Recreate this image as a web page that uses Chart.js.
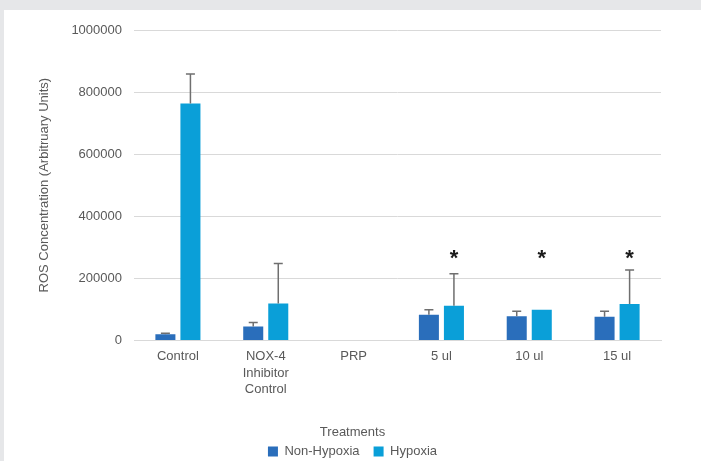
<!DOCTYPE html>
<html>
<head>
<meta charset="utf-8">
<script src="https://cdn.jsdelivr.net/npm/chart.js@4/dist/chart.umd.min.js"></script>
<style>
  html, body { margin: 0; padding: 0; background: #e6e7e9; width: 701px; height: 461px; overflow: hidden; }
  #card { position: absolute; left: 4px; top: 10px; width: 697px; height: 451px; background: #ffffff; overflow: hidden; }
  canvas { display: block; }
</style>
</head>
<body>
<div id="card"><canvas id="c" width="697" height="458"></canvas></div>
<script>
// ---- data ----
const categories = [['Control'], ['NOX-4', 'Inhibitor', 'Control'], 'PRP', '5 ul', '10 ul', '15 ul'];
const nonHypoxia = [20000, 45000, 0, 83000, 78000, 76000];
const nonHypoxiaErr = [3000, 13000, 0, 16000, 16000, 18000];
const hypoxia = [763000, 119000, 0, 112000, 99000, 117000];
const hypoxiaErr = [95000, 129000, 0, 103000, 0, 110000];
const starValues = [null, null, null, 280000, 280000, 280000];
const yTicks = [0, 200000, 400000, 600000, 800000, 1000000];

const TXT = '#595959';
const FONT = "'Liberation Sans', Arial, sans-serif";

const errorBars = {
  id: 'errorBars',
  afterDatasetsDraw(chart) {
    const ctx = chart.ctx;
    const y = chart.scales.y;
    chart.data.datasets.forEach((ds, di) => {
      const meta = chart.getDatasetMeta(di);
      const errs = ds.errors || [];
      meta.data.forEach((bar, i) => {
        const e = errs[i];
        if (!e) return;
        const top = y.getPixelForValue(ds.data[i] + e);
        ctx.save();
        ctx.strokeStyle = '#6f6f6f';
        ctx.lineWidth = 1.5;
        ctx.beginPath();
        ctx.moveTo(bar.x, bar.y);
        ctx.lineTo(bar.x, top);
        ctx.moveTo(bar.x - 4.5, top);
        ctx.lineTo(bar.x + 4.5, top);
        ctx.stroke();
        ctx.restore();
      });
    });
    // significance stars above hypoxia bars
    const meta = chart.getDatasetMeta(1);
    ctx.save();
    ctx.fillStyle = '#1a1a1a';
    ctx.font = "bold 22px " + FONT;
    ctx.textAlign = 'center';
    ctx.textBaseline = 'alphabetic';
    starValues.forEach((v, i) => {
      if (v == null) return;
      const bar = meta.data[i];
      const py = y.getPixelForValue(v);
      ctx.fillText('*', bar.x, py + 12);
    });
    ctx.restore();
  }
};

new Chart(document.getElementById('c'), {
  type: 'bar',
  data: {
    labels: categories,
    datasets: [
      { label: 'Non-Hypoxia', data: nonHypoxia, errors: nonHypoxiaErr, backgroundColor: '#2a6ebb',
        yAxisID: 'y', categoryPercentage: 0.57, barPercentage: 0.8 },
      { label: 'Hypoxia', data: hypoxia, errors: hypoxiaErr, backgroundColor: '#0a9fd8',
        yAxisID: 'y', categoryPercentage: 0.57, barPercentage: 0.8 }
    ]
  },
  options: {
    responsive: false,
    animation: false,
    layout: { padding: { top: 20, right: 0, left: 0, bottom: 0 } },
    plugins: {
      tooltip: { enabled: false },
      legend: {
        position: 'bottom',
        title: { display: true, text: 'Treatments', color: TXT, font: { family: FONT, size: 13 }, padding: { top: 0, bottom: -11 } },
        labels: { color: TXT, font: { family: FONT, size: 13 }, boxWidth: 10, boxHeight: 10, padding: 14 }
      }
    },
    scales: {
      x: {
        grid: { display: false, drawTicks: false },
        border: { display: true, color: '#d9d9d9', width: 1 },
        ticks: { color: TXT, font: { family: FONT, size: 13, lineHeight: 1.27 }, padding: 8, maxRotation: 0, autoSkip: false },
        afterFit(s) { s.height = 86; }
      },
      y: {
        min: 0, max: 1000000,
        afterBuildTicks(s) { s.ticks = yTicks.map(v => ({ value: v })); },
        grid: { color: '#d9d9d9', drawTicks: false },
        border: { display: false },
        ticks: { color: TXT, font: { family: FONT, size: 13 }, padding: 12, callback: v => String(v) },
        title: { display: true, text: 'ROS Concentration (Arbitruary Units)', color: TXT, font: { family: FONT, size: 13 }, padding: { top: 33, bottom: 0 } },
        afterFit(s) { s.width = 130; }
      },
      yr: {
        position: 'right',
        min: 0, max: 1,
        grid: { display: false, drawTicks: false },
        border: { display: false },
        ticks: { display: false },
        afterFit(s) { s.width = 40; }
      }
    }
  },
  plugins: [errorBars]
});
</script>
</body>
</html>
